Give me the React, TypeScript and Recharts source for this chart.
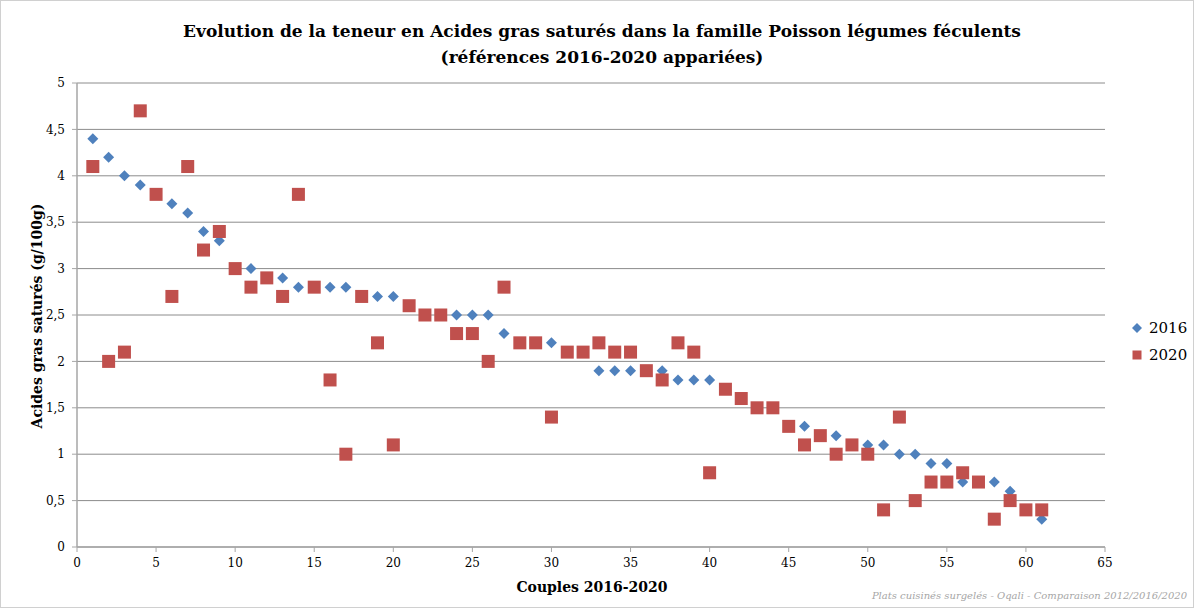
import React from 'react';
import { ScatterChart, Scatter, XAxis, YAxis, CartesianGrid } from 'recharts';

const couples = [
  1, 2, 3, 4, 5, 6, 7, 8, 9, 10, 11, 12, 13, 14, 15, 16, 17, 18, 19, 20,
  21, 22, 23, 24, 25, 26, 27, 28, 29, 30, 31, 32, 33, 34, 35, 36, 37, 38, 39, 40,
  41, 42, 43, 44, 45, 46, 47, 48, 49, 50, 51, 52, 53, 54, 55, 56, 57, 58, 59, 60, 61,
];

const values2016 = [
  4.4, 4.2, 4.0, 3.9, 3.8, 3.7, 3.6, 3.4, 3.3, 3.0,
  3.0, 2.9, 2.9, 2.8, 2.8, 2.8, 2.8, 2.7, 2.7, 2.7,
  2.6, 2.5, 2.5, 2.5, 2.5, 2.5, 2.3, 2.2, 2.2, 2.2,
  2.1, 2.1, 1.9, 1.9, 1.9, 1.9, 1.9, 1.8, 1.8, 1.8,
  1.7, 1.6, 1.5, 1.5, 1.3, 1.3, 1.2, 1.2, 1.1, 1.1,
  1.1, 1.0, 1.0, 0.9, 0.9, 0.7, 0.7, 0.7, 0.6, 0.4, 0.3,
];

const values2020 = [
  4.1, 2.0, 2.1, 4.7, 3.8, 2.7, 4.1, 3.2, 3.4, 3.0,
  2.8, 2.9, 2.7, 3.8, 2.8, 1.8, 1.0, 2.7, 2.2, 1.1,
  2.6, 2.5, 2.5, 2.3, 2.3, 2.0, 2.8, 2.2, 2.2, 1.4,
  2.1, 2.1, 2.2, 2.1, 2.1, 1.9, 1.8, 2.2, 2.1, 0.8,
  1.7, 1.6, 1.5, 1.5, 1.3, 1.1, 1.2, 1.0, 1.1, 1.0,
  0.4, 1.4, 0.5, 0.7, 0.7, 0.8, 0.7, 0.3, 0.5, 0.4, 0.4,
];

const xTicks = [0, 5, 10, 15, 20, 25, 30, 35, 40, 45, 50, 55, 60, 65];
const yTicks = [0, 0.5, 1, 1.5, 2, 2.5, 3, 3.5, 4, 4.5, 5];

const seriesNames = ['2016', '2020'];
const titleLines = [
  'Evolution de la teneur en Acides gras saturés dans la famille Poisson légumes féculents',
  '(références 2016-2020 appariées)',
];
const xAxisTitle = 'Couples 2016-2020';
const yAxisTitle = 'Acides gras saturés (g/100g)';
const footnote = 'Plats cuisinés surgelés - Oqali - Comparaison 2012/2016/2020';

const BLUE = '#4F81BD';
const RED = '#C0504D';
const FONT = '"DejaVu Serif", "Liberation Serif", serif';

const data2016 = couples.map((c, i) => ({ x: c, y: values2016[i] }));
const data2020 = couples.map((c, i) => ({ x: c, y: values2020[i] }));

const Diamond = (props: any) => {
  const { cx, cy } = props;
  if (cx == null || cy == null) return null;
  const r = 5.5;
  return (
    <polygon
      points={`${cx},${cy - r} ${cx + r},${cy} ${cx},${cy + r} ${cx - r},${cy}`}
      fill={BLUE}
    />
  );
};

const Square = (props: any) => {
  const { cx, cy } = props;
  if (cx == null || cy == null) return null;
  const s = 13;
  return <rect x={cx - s / 2} y={cy - s / 2} width={s} height={s} fill={RED} />;
};

const fmt = (v: number) => String(v).replace('.', ',');

export default function App() {
  return (
    <div
      style={{
        position: 'absolute',
        left: 0,
        top: 0,
        width: 1194,
        height: 608,
        background: '#fff',
        fontFamily: FONT,
        boxSizing: 'border-box',
        border: '1px solid #d0d0d0',
      }}
    >
      <div
        style={{
          position: 'absolute',
          left: 0,
          top: 17,
          width: 1202,
          textAlign: 'center',
          fontWeight: 'bold',
          fontSize: 17,
          lineHeight: '26px',
          color: '#000',
        }}
      >
        <div>{titleLines[0]}</div>
        <div>{titleLines[1]}</div>
      </div>

      <div style={{ position: 'absolute', left: -1, top: -1 }}>
        <ScatterChart
          width={1194}
          height={608}
          margin={{ top: 83, right: 89, bottom: 31, left: 30 }}
        >
          <CartesianGrid horizontal vertical={false} stroke="#8c8c8c" strokeWidth={1} />
          <XAxis
            type="number"
            dataKey="x"
            domain={[0, 65]}
            ticks={xTicks}
            interval={0}
            height={30}
            tickSize={5}
            tickMargin={6}
            axisLine={{ stroke: '#a6a6a6', strokeWidth: 1.5 }}
            tickLine={{ stroke: '#a6a6a6' }}
            tick={{ fill: '#000', fontSize: 12, fontFamily: FONT }}
          />
          <YAxis
            type="number"
            dataKey="y"
            domain={[0, 5]}
            ticks={yTicks}
            interval={0}
            width={47}
            tickSize={5}
            tickMargin={7}
            tickFormatter={fmt}
            axisLine={{ stroke: '#a6a6a6', strokeWidth: 1.5 }}
            tickLine={{ stroke: '#a6a6a6' }}
            tick={{ fill: '#000', fontSize: 12, fontFamily: FONT }}
          />
          <Scatter name={seriesNames[0]} data={data2016} shape={Diamond} isAnimationActive={false} />
          <Scatter name={seriesNames[1]} data={data2020} shape={Square} isAnimationActive={false} />
        </ScatterChart>
      </div>

      <div
        style={{
          position: 'absolute',
          left: 36,
          top: 315,
          transform: 'translate(-50%, -50%) rotate(-90deg)',
          whiteSpace: 'nowrap',
          fontWeight: 'bold',
          fontSize: 14,
          color: '#000',
        }}
      >
        {yAxisTitle}
      </div>

      <div
        style={{
          position: 'absolute',
          left: 591,
          top: 586,
          transform: 'translate(-50%, -50%)',
          whiteSpace: 'nowrap',
          fontWeight: 'bold',
          fontSize: 14,
          color: '#000',
        }}
      >
        {xAxisTitle}
      </div>

      <div
        style={{
          position: 'absolute',
          right: 6,
          top: 589,
          whiteSpace: 'nowrap',
          fontStyle: 'italic',
          fontSize: 10,
          color: '#a6a6a6',
        }}
      >
        {footnote}
      </div>

      <div style={{ position: 'absolute', left: 1130, top: 314 }}>
        <div style={{ display: 'flex', alignItems: 'center', height: 26 }}>
          <svg width={12} height={12} style={{ marginRight: 6 }}>
            <polygon points="6,1 11,6 6,11 1,6" fill={BLUE} />
          </svg>
          <span style={{ fontSize: 15, color: '#000' }}>{seriesNames[0]}</span>
        </div>
        <div style={{ display: 'flex', alignItems: 'center', height: 28 }}>
          <svg width={12} height={12} style={{ marginRight: 6 }}>
            <rect x={1.5} y={1.5} width={9} height={9} fill={RED} />
          </svg>
          <span style={{ fontSize: 15, color: '#000' }}>{seriesNames[1]}</span>
        </div>
      </div>
    </div>
  );
}
